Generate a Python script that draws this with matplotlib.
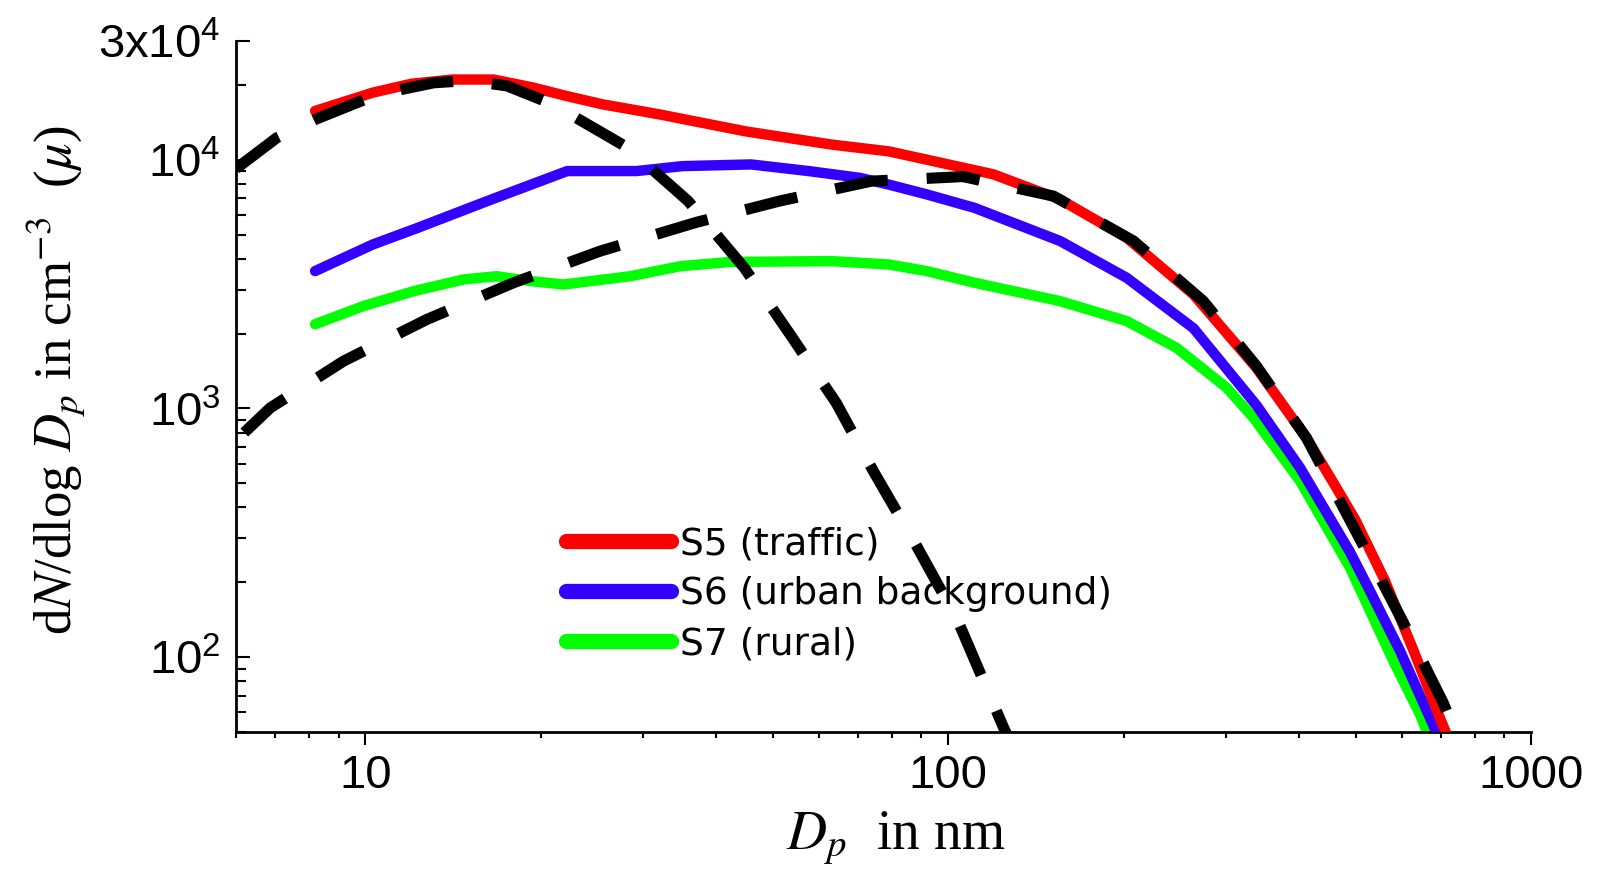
import numpy as np
import matplotlib
matplotlib.use("Agg")
import matplotlib.pyplot as plt
from matplotlib.ticker import LogLocator, NullFormatter

plt.rcParams["mathtext.fontset"] = "stix"

# --- data (Dp in nm, dN/dlogDp in cm^-3) ---
s5_dp = [8.2, 10.3, 12.0, 14.1, 16.6, 19.4, 22.2, 25.5, 32.0, 44.9, 63.1, 79.1,
         91.9, 119.6, 155.6, 202.5, 263.6, 338, 412, 461, 500, 562, 630, 694, 730]
s5_n = [15700, 18600, 20200, 21000, 21000, 19500, 18000, 16700, 15200, 13000,
        11500, 10800, 10000, 8730, 6920, 4850, 2870, 1455, 760, 490, 355, 202,
        105, 58.8, 44]

s6_dp = [8.2, 10.3, 12.3, 16.2, 22.2, 29.2, 35.0, 45.9, 57.6, 70.6, 79.1, 91.9,
         111, 155.6, 202.5, 263.6, 338, 401.6, 489, 526, 596, 667, 705]
s6_n = [3565, 4560, 5320, 6820, 9000, 9000, 9420, 9570, 9000, 8450, 7940, 7250,
        6400, 4710, 3350, 2100, 1030, 577, 265, 190, 106, 58.8, 44]

s7_dp = [8.2, 9.93, 12.1, 14.75, 16.8, 19.2, 21.9, 28.5, 34.7, 42.3, 63.1, 79.1,
         91.9, 111, 155.6, 202.5, 246.6, 300.6, 334, 401.6, 489, 581, 645, 680]
s7_n = [2180, 2580, 2960, 3300, 3400, 3250, 3150, 3400, 3730, 3880, 3910, 3790,
        3565, 3200, 2700, 2244, 1752, 1210, 917, 510, 229, 96, 58.8, 43]

# fitted modes (dashed)
m1_dp = [6.0, 7.05, 8.21, 10.5, 13.1, 15.0, 17.5, 21.0, 28.2, 35.8, 44.7, 53.8,
         64.3, 74.4, 87.9, 103.9, 124.5, 130]
m1_n = [9200, 12250, 14520, 18300, 20370, 20800, 19800, 16680, 11170, 6817,
        3672, 1953, 1050, 560, 285, 140, 52, 42]

m2_dp = [6.2, 6.87, 9.18, 12.76, 17.96, 25.3, 37.0, 51.4, 73.9, 106, 151.6, 208,
         274, 338, 412, 505.6, 600, 707, 736, 750]
m2_n = [800, 1005, 1550, 2280, 3200, 4290, 5600, 6820, 8200, 8550, 7140, 4710,
        2700, 1480, 760, 306.6, 141.8, 65.5, 52, 46]

labels = ["S5 (traffic)", "S6 (urban background)", "S7 (rural)"]
colors = ["#ff0000", "#3300ff", "#00ff00"]

W, H = 1604, 886
fig = plt.figure(figsize=(W / 100, H / 100), dpi=100)
ax = fig.add_axes([236 / W, 154 / H, 1295 / W, 691 / H])

style = dict(lw=7.5, solid_capstyle="round", solid_joinstyle="round")
l7, = ax.plot(s7_dp, s7_n, color=colors[2], zorder=2, **style)
l6, = ax.plot(s6_dp, s6_n, color=colors[1], zorder=3, **style)
l5, = ax.plot(s5_dp, s5_n, color=colors[0], zorder=4, **style)

for dp, n in [(m1_dp, m1_n), (m2_dp, m2_n)]:
    ax.plot(dp, n, color="black", lw=8, dashes=(4.8, 3.5),
            dash_capstyle="butt", dash_joinstyle="round", zorder=6)

ax.set_xscale("log")
ax.set_yscale("log")
ax.set_xlim(6, 1000)
ax.set_ylim(50, 3e4)

# ticks
ax.set_xticks([10, 100, 1000])
ax.set_xticklabels(["10", "100", "1000"], family="Liberation Sans", fontsize=34)
ax.xaxis.set_minor_locator(LogLocator(base=10, subs=np.arange(2, 10), numticks=20))
ax.xaxis.set_minor_formatter(NullFormatter())

ax.set_yticks([1e2, 1e3, 1e4, 3e4])
ax.set_yticklabels([r"$\mathregular{10^{2}}$", r"$\mathregular{10^{3}}$",
                    r"$\mathregular{10^{4}}$", r"3x$\mathregular{10^{4}}$"],
                   family="Liberation Sans", fontsize=34)
ax.yaxis.set_minor_locator(LogLocator(base=10, subs=np.arange(2, 10), numticks=20))
ax.yaxis.set_minor_formatter(NullFormatter())

ax.tick_params(axis="x", which="major", direction="out", length=9.5, width=1.5, pad=6)
ax.tick_params(axis="x", which="minor", direction="out", length=4.3, width=1.5)
ax.tick_params(axis="y", which="major", direction="in", length=10, width=1.5, pad=11)
ax.tick_params(axis="y", which="minor", direction="in", length=7, width=1.5)

for side in ["top", "right"]:
    ax.spines[side].set_visible(False)
for side in ["left", "bottom"]:
    ax.spines[side].set_linewidth(2)

# axis labels (Times-like)
ax.set_xlabel(r"$D_p$  in nm", family="Liberation Serif", fontsize=40)
ax.xaxis.set_label_coords((896 - 236) / 1295, -(838 - 732) / 691)
ax.xaxis.label.set_va("center")

ax.set_ylabel(r"d$N$/dlog $D_p$ in cm$^{\mathrm{-3}}$  ($\mu$)",
              family="Liberation Serif", fontsize=38)
ax.yaxis.set_label_coords((56 - 236) / 1295, (886 - 380 - 154) / 691)
ax.yaxis.label.set_va("center")
ax.yaxis.label.set_rotation_mode("default")

# legend
leg = ax.legend([l5, l6, l7], labels, loc="upper left",
                bbox_to_anchor=(566 / W, 1 - 526 / H), bbox_transform=fig.transFigure,
                frameon=False, borderpad=0, borderaxespad=0, handlelength=2.8,
                handletextpad=0.25, labelspacing=0.38,
                prop={"family": "DejaVu Sans", "size": 27})
leg.set_zorder(5)
for line in leg.get_lines():
    line.set_linewidth(11)
    line.set_solid_capstyle("round")

fig.savefig("out.png", dpi=100)
